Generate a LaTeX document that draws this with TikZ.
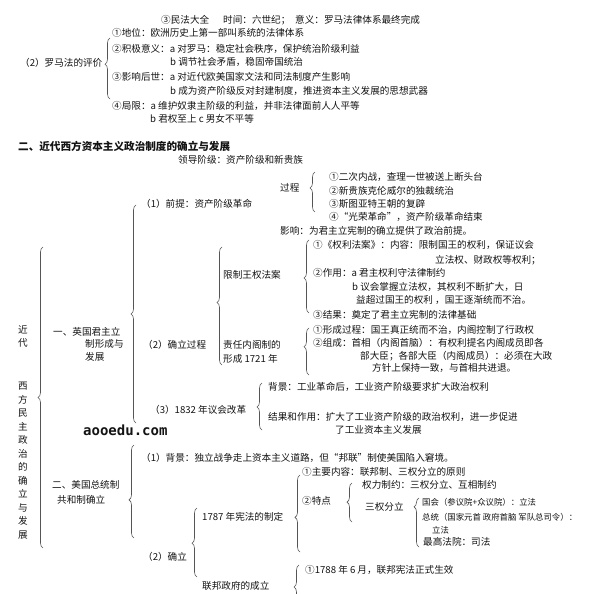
\documentclass[tikz,border=0pt]{standalone}
\usepackage{fontspec}
\setmainfont{Noto Sans CJK SC}
\newfontfamily\wmfont{DejaVu Sans Mono}
\usepackage{xcolor}
\definecolor{ColBlack}{RGB}{20,20,20}
\definecolor{ColGray}{RGB}{85,85,85}
\usetikzlibrary{decorations.pathreplacing}
\tikzstyle{Txt}=[ColBlack,anchor=west,inner sep=0pt,
    font=\fontsize{9.6}{13.5}\selectfont]
\tikzstyle{Small}=[Txt,font=\fontsize{8.4}{11}\selectfont]
\tikzstyle{Title}=[Txt,font=\fontsize{10.6}{13}\selectfont\bfseries]
\tikzstyle{Vert}=[ColBlack,anchor=north,inner sep=0pt,align=center,
    font=\fontsize{9.6}{13.5}\selectfont]
\tikzstyle{Brace}=[ColGray,line width=0.6pt,decorate,
    decoration={brace,amplitude=5pt}]
% brace from #2 (top) to #3 (bottom) at x=#1, tip at fraction #4 from bottom
\newcommand{\Brc}[4]{\draw[Brace,decoration={aspect=#4}](#1,#3)--(#1,#2);}

\begin{document}
\begin{tikzpicture}[x=1pt,y=-1pt]
    \useasboundingbox[fill=white](0,0)rectangle(600,594);
    % Roman law
    \node[Txt](md)at(161,20){③民法大全};
    \node[Txt](mt)at(223,20){时间：六世纪；};
    \node[Txt](my)at(295,20){意义：罗马法律体系最终完成};
    \node[Txt](rp)at(20,63){（2）罗马法的评价};
    \node[Txt](r1)at(112,33){①地位：欧洲历史上第一部叫系统的法律体系};
    \node[Txt](r2)at(112,49){②积极意义：a 对罗马：稳定社会秩序，保护统治阶级利益};
    \node[Txt](r3)at(170,62){b 调节社会矛盾，稳固帝国统治};
    \node[Txt](r4)at(112,77){③影响后世：a 对近代欧美国家文法和同法制度产生影响};
    \node[Txt](r5)at(170,91){b 成为资产阶级反对封建制度，推进资本主义发展的思想武器};
    \node[Txt](r6)at(112,106){④局限：a 维护奴隶主阶级的利益，并非法律面前人人平等};
    \node[Txt](r7)at(150,119){b 君权至上 c 男女不平等};
    \Brc{110}{38}{99}{0.57}
    % heading
    \node[Title](hd)at(18,146){二、近代西方资本主义政治制度的确立与发展};
    \node[Txt](ld)at(178,160){领导阶级：资产阶级和新贵族};
    % vertical title
    \node[Vert](jd)at(23,325){近\\代};
    \node[Vert](xf)at(23,382){西\\方\\民\\主\\政\\治\\的\\确\\立\\与\\发\\展};
    \Brc{43}{247}{548}{0.5}
    % England
    \node[Txt](ya)at(53,332){一、英国君主立};
    \node[Txt](yb)at(85,344){制形成与};
    \node[Txt](yc)at(85,357){发展};
    \Brc{136}{205}{423}{0.5}
    \node[Txt](p1)at(141,204){（1）前提：资产阶级革命};
    \node[Txt](gc)at(280,188){过程};
    \Brc{315}{172}{212}{0.6}
    \node[Txt](g1)at(329,177){①二次内战，查理一世被送上断头台};
    \node[Txt](g2)at(329,191){②新贵族克伦威尔的独裁统治};
    \node[Txt](g3)at(329,204){③斯图亚特王朝的复辟};
    \node[Txt](g4)at(329,217){④“光荣革命”，资产阶级革命结束};
    \node[Txt](yx)at(280,231){影响：为君主立宪制的确立提供了政治前提。};
    \node[Txt](p2)at(143,345){（2）确立过程};
    \Brc{222}{247}{365}{0.53}
    \node[Txt](xz)at(223,275){限制王权法案};
    \node[Txt](za)at(223,345){责任内阁制的};
    \node[Txt](zb)at(223,359){形成 1721 年};
    \Brc{309}{240}{313}{0.48}
    \node[Txt](b1)at(313,245){①《权利法案》：内容：限制国王的权利，保证议会};
    \node[Txt](b2)at(435,260){立法权、财政权等权利；};
    \node[Txt](b3)at(313,273){②作用：a 君主权利守法律制约};
    \node[Txt](b4)at(352,287){b 议会掌握立法权，其权利不断扩大，日};
    \node[Txt](b5)at(356,300){益超过国王的权利 ，国王逐渐统而不治。};
    \node[Txt](b6)at(313,315){③结果：奠定了君主立宪制的法律基础};
    \Brc{309}{328}{375}{0.6}
    \node[Txt](n1)at(313,330){①形成过程：国王真正统而不治，内阁控制了行政权};
    \node[Txt](n2)at(313,343){②组成：首相（内阁首脑）：有权利提名内阁成员即各};
    \node[Txt](n3)at(360,356){部大臣；各部大臣（内阁成员）：必须在大政};
    \node[Txt](n4)at(372,368){方针上保持一致，与首相共进退。};
    \node[Txt](p3)at(150,410){（3）1832 年议会改革};
    \Brc{262}{383}{430}{0.49}
    \node[Txt](c1)at(268,387){背景：工业革命后，工业资产阶级要求扩大政治权利};
    \node[Txt](c2)at(268,417){结果和作用：扩大了工业资产阶级的政治权利，进一步促进};
    \node[Txt](c3)at(335,430){了工业资本主义发展};
    \node[ColBlack,anchor=west,inner sep=0pt,
        font=\fontsize{14}{14}\wmfont\bfseries](wm)at(83,430){aooedu.com};
    % USA
    \node[Txt](ma)at(52,485){二、美国总统制};
    \node[Txt](mb)at(57,500){共和制确立};
    \Brc{134}{445}{538}{0.41}
    \node[Txt](a1)at(141,458){（1）背景：独立战争走上资本主义道路，但“邦联”制使美国陷入窘境。};
    \node[Txt](a2)at(143,557){（2）确立};
    \Brc{197}{508}{577}{0.49}
    \node[Txt](k0)at(202,517){1787 年宪法的制定};
    \Brc{300}{475}{552}{0.45}
    \node[Txt](k1)at(302,472){①主要内容：联邦制、三权分立的原则};
    \node[Txt](k2)at(302,501){②特点};
    \Brc{352}{483}{522}{0.51}
    \node[Txt](k3)at(362,485){权力制约：三权分立、互相制约};
    \node[Txt](k4)at(365,507){三权分立};
    \Brc{419}{498}{547}{0.82}
    \node[Small](s1)at(422,502){国会（参议院+众议院）：立法};
    \node[Small](s2)at(422,517){总统（国家元首 政府首脑 军队总司令）：};
    \node[Small](s3)at(432,530){立法};
    \node[Txt](s4)at(423,542){最高法院：司法};
    \node[Txt](f0)at(202,586){联邦政府的成立};
    \begin{scope}
        \clip(0,0)rectangle(600,594);
        \Brc{299}{565}{610}{0.51}
    \end{scope}
    \node[Txt](f1)at(305,570){①1788 年 6 月，联邦宪法正式生效};
\end{tikzpicture}
\end{document}
